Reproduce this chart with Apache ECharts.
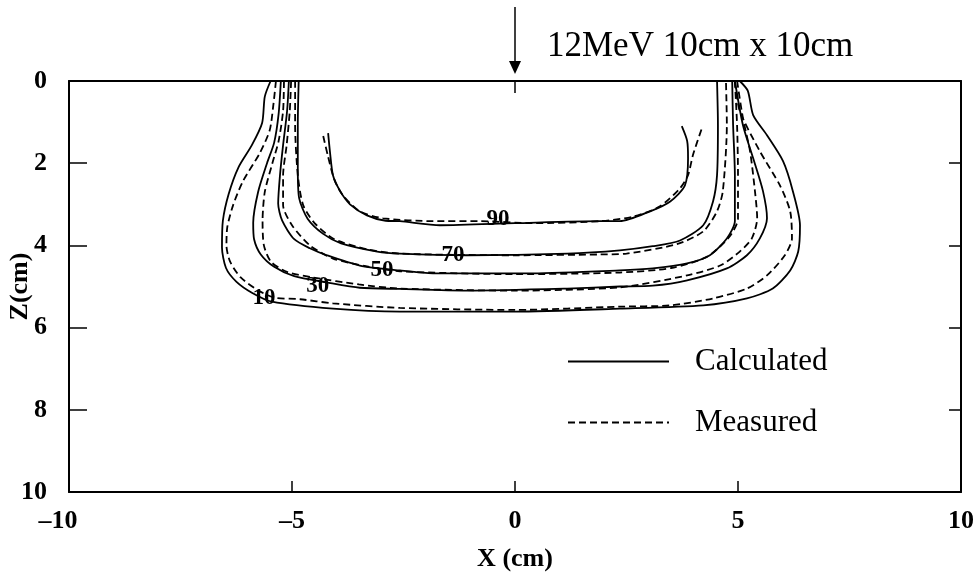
<!DOCTYPE html>
<html>
<head>
<meta charset="utf-8">
<script src="https://cdn.jsdelivr.net/npm/echarts@6/dist/echarts.min.js"></script>
<style>
html, body { margin: 0; padding: 0; background: #fff; }
#chart { width: 976px; height: 574px; }
</style>
</head>
<body>
<div id="chart"></div>
<script>
// isodose lines, [x (cm), z (cm)] — calculated = solid, measured = dashed
const calc90 = [[-4.19,1.27],[-4.15,1.71],[-4.08,2.30],[-3.92,2.68],[-3.70,3.00],[-3.32,3.27],[-2.90,3.40],[-2.58,3.41],[-1.68,3.51],[0,3.46],[1.91,3.41],[2.35,3.41],[3.03,3.17],[3.48,2.93],[3.81,2.54],[3.88,1.88],[3.86,1.46],[3.74,1.10]];
const meas90 = [[-4.30,1.34],[-4.20,1.80],[-4.05,2.40],[-3.86,2.78],[-3.48,3.17],[-2.96,3.34],[-1.84,3.41],[-0.78,3.41],[0.40,3.46],[1.91,3.41],[2.65,3.30],[3.25,3.05],[3.70,2.61],[3.88,2.29],[3.99,1.80],[4.19,1.15]];

const calc70 = [[-4.85,0],[-4.87,1.07],[-4.87,2.12],[-4.84,2.85],[-4.65,3.35],[-4.30,3.72],[-3.90,3.95],[-3.09,4.15],[-2.58,4.20],[-1.08,4.24],[1.17,4.20],[2.35,4.12],[3.09,4.02],[3.70,3.88],[4.22,3.51],[4.44,2.93],[4.53,2.29],[4.55,1.07],[4.53,0]];
const meas70 = [[-4.93,0],[-4.93,1.07],[-4.87,2.29],[-4.75,3.02],[-4.50,3.45],[-4.05,3.85],[-3.30,4.10],[-2.58,4.20],[0,4.24],[1.91,4.22],[2.50,4.20],[3.63,3.97],[4.22,3.66],[4.53,3.17],[4.66,2.68],[4.75,1.07],[4.73,0]];

const calc50 = [[-5.07,0],[-5.11,0.73],[-5.20,1.56],[-5.27,2.30],[-5.31,2.98],[-5.22,3.40],[-4.95,3.85],[-4.60,4.07],[-4.22,4.24],[-3.48,4.49],[-2.58,4.61],[-1.84,4.68],[0.40,4.68],[2.35,4.61],[3.09,4.56],[3.86,4.44],[4.37,4.24],[4.75,3.83],[4.93,3.41],[4.93,2.29],[4.89,1.07],[4.87,0]];
const meas50 = [[-5.02,0],[-5.05,0.73],[-5.12,1.56],[-5.20,2.30],[-5.20,3.02],[-5.00,3.51],[-4.60,4.00],[-4.08,4.32],[-3.32,4.51],[-2.58,4.63],[0,4.70],[2.35,4.66],[3.50,4.55],[4.30,4.28],[4.80,3.80],[5.00,3.35],[5.00,2.29],[4.98,1.10],[4.93,0]];

const calc30 = [[-5.25,0],[-5.30,0.8],[-5.40,1.5],[-5.56,2.0],[-5.76,2.7],[-5.87,3.45],[-5.85,3.85],[-5.70,4.22],[-5.40,4.52],[-4.95,4.75],[-4.22,4.90],[-3.48,5.03],[-2.58,5.06],[-1.08,5.10],[1.17,5.05],[2.35,5.00],[3.09,4.98],[3.86,4.85],[4.75,4.56],[5.20,4.24],[5.49,3.83],[5.65,3.34],[5.56,2.68],[5.34,1.88],[5.11,1.07],[4.93,0]];
const meas30 = [[-5.18,0],[-5.20,0.73],[-5.30,1.46],[-5.44,2.0],[-5.61,2.7],[-5.66,3.4],[-5.63,4.0],[-5.47,4.4],[-5.10,4.65],[-4.53,4.78],[-3.50,4.95],[-2.58,5.05],[0,5.10],[2.35,5.02],[3.86,4.73],[4.60,4.49],[5.04,4.15],[5.31,3.83],[5.43,3.34],[5.38,2.68],[5.27,1.71],[5.11,0.90],[4.98,0]];

const calc10 = [[-5.48,0],[-5.61,0.38],[-5.67,1.02],[-5.90,1.56],[-6.20,2.10],[-6.42,2.75],[-6.55,3.40],[-6.57,4.05],[-6.48,4.55],[-6.25,4.88],[-5.90,5.15],[-5.45,5.37],[-4.08,5.54],[-2.58,5.61],[0,5.61],[2.35,5.54],[4.22,5.46],[5.20,5.29],[5.78,5.05],[6.17,4.61],[6.35,4.15],[6.39,3.51],[6.23,2.68],[6.01,1.95],[5.65,1.32],[5.34,0.83],[5.22,0.24],[5.04,0]];
const meas10 = [[-5.36,0],[-5.42,0.6],[-5.50,1.2],[-5.72,1.75],[-6.10,2.44],[-6.32,3.02],[-6.45,3.55],[-6.47,4.0],[-6.39,4.39],[-6.15,4.78],[-5.75,5.10],[-5.40,5.27],[-4.82,5.31],[-4.08,5.41],[-2.58,5.52],[0,5.57],[2.35,5.49],[3.48,5.46],[4.44,5.29],[5.20,5.05],[5.65,4.73],[6.05,4.24],[6.21,3.83],[6.17,3.17],[5.94,2.54],[5.49,1.71],[5.04,0.73],[4.93,0]];

// contour level labels: [x, z, text]
const levelLabels = [[-0.38,3.37,'90'],[-1.39,4.24,'70'],[-2.98,4.61,'50'],[-4.42,4.98,'30'],[-5.63,5.29,'10']];

const calcLines = [calc90, calc70, calc50, calc30, calc10];
const measLines = [meas90, meas70, meas50, meas30, meas10];

const serif = 'Liberation Serif';
const chart = echarts.init(document.getElementById('chart'));

const series = [];
calcLines.forEach(d => {
  series.push({
    name: 'Calculated', type: 'line', data: d, symbol: 'none', smooth: 0.25,
    itemStyle: { color: '#000' },
    lineStyle: { color: '#000', width: 1.8, type: 'solid' }, silent: true
  });
});
measLines.forEach(d => {
  series.push({
    name: 'Measured', type: 'line', data: d, symbol: 'none', smooth: 0.25,
    itemStyle: { color: '#000' },
    lineStyle: { color: '#000', width: 1.8, type: [7, 4] }, silent: true
  });
});
series.push({
  name: 'levels', type: 'scatter', data: levelLabels, symbolSize: 0, silent: true,
  itemStyle: { opacity: 1, color: '#000' },
  label: {
    show: true, position: 'inside', formatter: p => p.value[2],
    color: '#000', fontFamily: serif, fontWeight: 'bold', fontSize: 23
  }
});

const tickFont = { fontFamily: serif, fontWeight: 'bold', fontSize: 26, color: '#000' };

const option = {
  animation: false,
  backgroundColor: '#fff',
  title: {
    text: '12MeV 10cm x 10cm',
    left: 547, top: 29, padding: 0,
    textStyle: { fontFamily: serif, fontWeight: 'normal', fontSize: 35, color: '#000' }
  },
  legend: {
    data: ['Calculated', 'Measured'],
    orient: 'vertical', left: 562, top: 341,
    itemWidth: 101, itemHeight: 14, itemGap: 30,
    itemStyle: { opacity: 0 },
    textStyle: { fontFamily: serif, fontSize: 31, color: '#000', padding: [0, 0, 0, 21] },
    selectedMode: false
  },
  grid: { left: 69, right: 15, top: 81, bottom: 82, containLabel: false, outerBoundsMode: 'none' },
  xAxis: [{
    type: 'value', min: -10, max: 10, interval: 5,
    name: 'X (cm)', nameLocation: 'middle', nameGap: 54,
    nameTextStyle: tickFont,
    axisLine: { onZero: false, lineStyle: { color: '#000', width: 2 } },
    axisTick: { inside: true, length: 11, lineStyle: { color: '#000', width: 1.5 } },
    axisLabel: Object.assign({
      margin: 16,
      formatter: v => (v === -10 ? '{lead|\u201310}' : v < 0 ? '\u2013' + Math.abs(v) : String(v)),
      rich: { lead: Object.assign({ padding: [0, 22, 0, 0] }, tickFont) }
    }, tickFont),
    splitLine: { show: false }
  }, {
    type: 'value', min: -10, max: 10, position: 'top',
    axisLine: { onZero: false, lineStyle: { color: '#000', width: 2 } },
    axisTick: { inside: true, length: 12, customValues: [0], lineStyle: { color: '#000', width: 1.5 } },
    axisLabel: { show: false },
    splitLine: { show: false }
  }],
  yAxis: [{
    type: 'value', min: 0, max: 10, interval: 2, inverse: true,
    name: 'Z(cm)', nameLocation: 'middle', nameGap: 36, nameRotate: 90,
    nameMoveOverlap: false,
    nameTextStyle: tickFont,
    axisLine: { onZero: false, lineStyle: { color: '#000', width: 2 } },
    axisTick: { inside: true, length: 18, lineStyle: { color: '#000', width: 1.5 } },
    axisLabel: Object.assign({ margin: 22 }, tickFont),
    splitLine: { show: false }
  }, {
    type: 'value', min: 0, max: 10, interval: 2, inverse: true, position: 'right',
    axisLine: { show: true, onZero: false, lineStyle: { color: '#000', width: 2 } },
    axisTick: { show: true, inside: true, length: 12, lineStyle: { color: '#000', width: 1.5 } },
    axisLabel: { show: false },
    splitLine: { show: false }
  }],
  series: series
};
chart.setOption(option);

// beam arrow above the phantom surface at x = 0
const ax = chart.convertToPixel({ xAxisIndex: 0 }, 0);
const surf = chart.convertToPixel({ yAxisIndex: 0 }, 0);
chart.setOption({
  graphic: [
    { type: 'line', shape: { x1: ax, y1: 7, x2: ax, y2: surf - 16 }, style: { stroke: '#000', lineWidth: 1.5 } },
    { type: 'polygon', shape: { points: [[ax - 6, surf - 20], [ax + 6, surf - 20], [ax, surf - 7]] }, style: { fill: '#000' } }
  ]
});
</script>
</body>
</html>
